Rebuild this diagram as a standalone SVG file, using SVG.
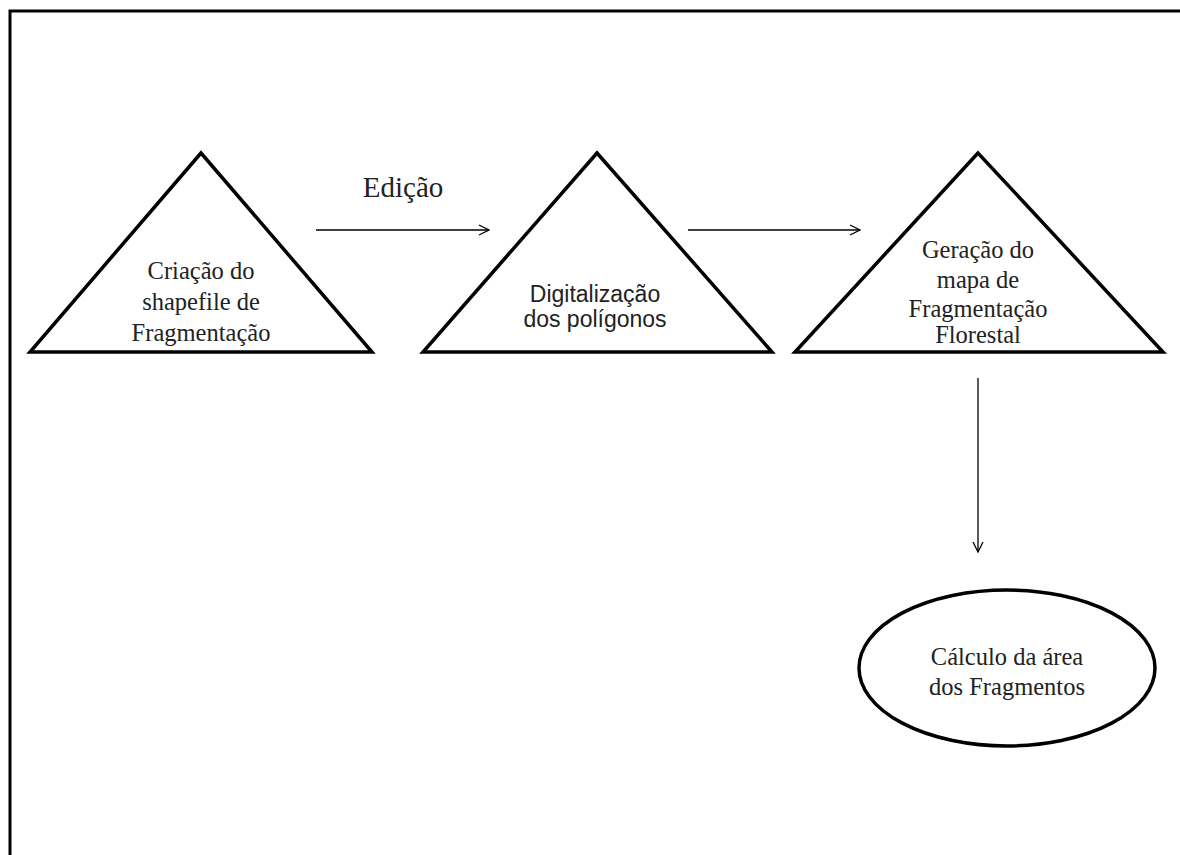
<svg xmlns="http://www.w3.org/2000/svg" width="1180" height="855" viewBox="0 0 1180 855">
<style>
.shape{fill:#fff;stroke:#000;stroke-width:3.5;stroke-linejoin:miter}
.conn{stroke:#000;stroke-width:1.3;fill:none}
.serif{font-family:"Liberation Serif","Times New Roman",serif;font-size:24.5px;fill:#222;text-anchor:middle}
.sans{font-family:"Liberation Sans",Arial,sans-serif;font-size:23px;fill:#222;text-anchor:middle}
</style>
<defs>
<marker id="arr" viewBox="0 0 12 12" refX="11" refY="6" markerWidth="12" markerHeight="12" markerUnits="userSpaceOnUse" orient="auto">
<path d="M1,1 L11,6 L1,11" fill="none" stroke="#000" stroke-width="1.3"/>
</marker>
</defs>
<rect x="0" y="0" width="1180" height="855" fill="#fff"/>
<rect x="10" y="11" width="1190" height="848" fill="none" stroke="#000" stroke-width="3"/>
<g id="n1">
<polygon class="shape" points="201,153 30,352 372,352"/>
<text class="serif" x="201" y="279">Criação do</text>
<text class="serif" x="201" y="310">shapefile de</text>
<text class="serif" x="201" y="341">Fragmentação</text>
</g>
<g id="n2">
<polygon class="shape" points="597,153 423,352 772,352"/>
<text class="sans" x="595" y="302">Digitalização</text>
<text class="sans" x="595" y="327">dos polígonos</text>
</g>
<g id="n3">
<polygon class="shape" points="978,153 795,352 1163,352"/>
<text class="serif" x="978" y="258">Geração do</text>
<text class="serif" x="978" y="288">mapa de</text>
<text class="serif" x="978" y="317">Fragmentação</text>
<text class="serif" x="978" y="343">Florestal</text>
</g>
<g id="n4">
<ellipse class="shape" cx="1007" cy="668" rx="148" ry="78"/>
<text class="serif" x="1007" y="665">Cálculo da área</text>
<text class="serif" x="1007" y="695">dos Fragmentos</text>
</g>
<g id="connectors">
<line class="conn" x1="316" y1="230" x2="489" y2="230" marker-end="url(#arr)"/>
<line class="conn" x1="688" y1="230" x2="860" y2="230" marker-end="url(#arr)"/>
<line class="conn" x1="978" y1="378" x2="978" y2="552" marker-end="url(#arr)"/>
<text class="serif" x="403" y="197" style="font-size:29px">Edição</text>
</g>
</svg>
